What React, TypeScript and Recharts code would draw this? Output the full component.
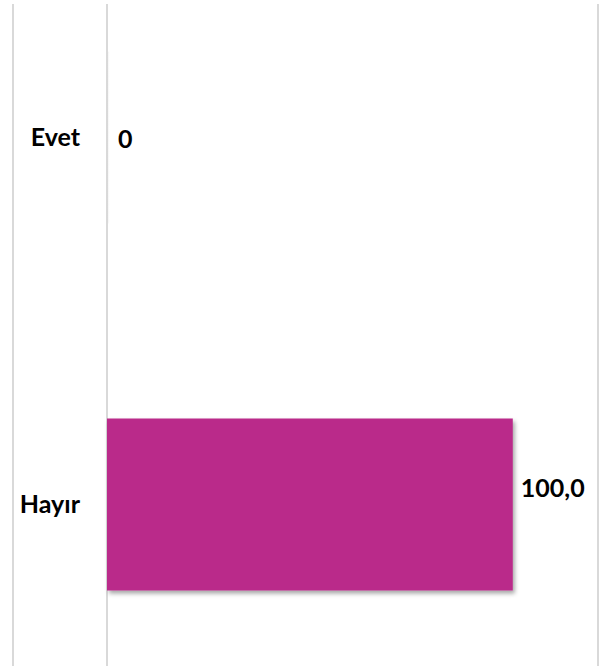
import { BarChart, Bar, XAxis, YAxis, CartesianGrid, LabelList } from "recharts";

const categories = ["Evet", "Hayır"];
const values = [0, 100.0];
const valueLabels = ["0", "100,0"];
const axisTicks = [0, 121];

const data = categories.map((name, i) => ({ name, value: values[i], label: valueLabels[i] }));

const FONT = "Lato, 'Open Sans', sans-serif";

function ValueLabel(props: any) {
  const { x, y, width, height, value } = props;
  const isZero = value === "0";
  return (
    <text
      x={x + width + 8}
      y={y + height / 2 + (isZero ? 0 : -18)}
      dominantBaseline="central"
      fill="#000"
      fontSize={25}
      fontWeight={700}
      fontFamily={FONT}
    >
      {value}
    </text>
  );
}

// zero-valued bar only shows the faint edge of its shadow
function BarShape(props: any) {
  const { x, y, width, height, fill, value } = props;
  const v = Array.isArray(value) ? value[1] - value[0] : value;
  if (!v) {
    return <rect x={x} y={y} width={width} height={height} fill="url(#zeroShadow)" />;
  }
  return <rect x={x} y={y} width={width} height={height} fill={fill} filter="url(#barShadow)" />;
}

export default function App() {
  return (
    <div style={{ position: "absolute", left: 0, top: 0, width: 599, height: 666, background: "#fff", overflow: "hidden" }}>
      {/* left frame line */}
      <div style={{ position: "absolute", left: 12, top: 4, width: 2, height: 662, background: "#d9d9d9" }} />
      <BarChart
        width={599}
        height={666}
        data={data}
        layout="vertical"
        margin={{ top: 4, right: 1, bottom: 0, left: 0 }}
      >
        <defs>
          <filter id="barShadow" x="-5%" y="-5%" width="115%" height="120%">
            <feDropShadow dx="2" dy="3" stdDeviation="2" floodColor="#000" floodOpacity="0.35" />
          </filter>
          <linearGradient id="zeroShadow" x1="0" y1="0" x2="1" y2="0">
            <stop offset="0%" stopColor="#d0d0d0" stopOpacity={0.6} />
            <stop offset="100%" stopColor="#ffffff" stopOpacity={0} />
          </linearGradient>
        </defs>
        <CartesianGrid horizontal={false} vertical stroke="#d9d9d9" strokeWidth={2} />
        <XAxis type="number" domain={[0, 121]} ticks={axisTicks} hide />
        <YAxis
          type="category"
          dataKey="name"
          width={107}
          axisLine={false}
          tickLine={false}
          tickSize={0}
          tickMargin={27}
          padding={{ top: -50.5, bottom: -21.5 } as any}
          tick={{ fill: "#000", fontSize: 25, fontWeight: 700, fontFamily: FONT }}
        />
        <Bar
          dataKey="value"
          fill="#BA2A8A"
          barSize={172}
          minPointSize={3}
          isAnimationActive={false}
          shape={<BarShape />}
        >
          <LabelList dataKey="label" content={<ValueLabel />} />
        </Bar>
      </BarChart>
    </div>
  );
}
